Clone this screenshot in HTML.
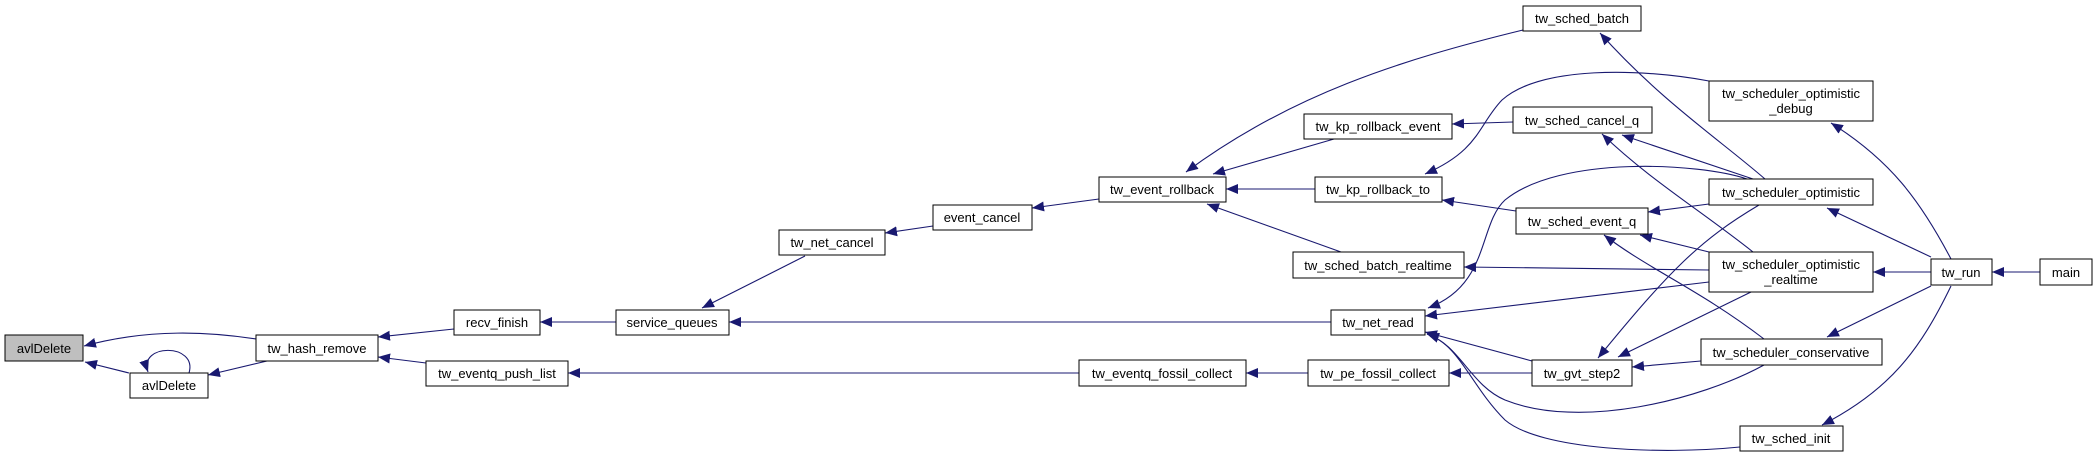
<!DOCTYPE html>
<html><head><meta charset="utf-8"><style>
html,body{margin:0;padding:0;background:#fff;}
svg{display:block;}
text{font-family:"Liberation Sans",Arial,sans-serif;font-size:13px;fill:#000;}
.n{fill:#fff;stroke:#000;stroke-width:1;}
.e{fill:none;stroke:#191970;stroke-width:1.1;}
</style></head><body>
<svg width="2093" height="457" viewBox="0 0 2093 457" xmlns="http://www.w3.org/2000/svg">
<defs><marker id="a" markerUnits="userSpaceOnUse" markerWidth="14" markerHeight="12" refX="12" refY="5" orient="auto"><path d="M0,0 L12,5 L0,10 Z" fill="#191970"/></marker></defs>
<g class="e" marker-end="url(#a)">
<path d="M256,339 C210,332 150,328 84,346"/>
<path d="M129,373 L85,362"/>
<path d="M189,373 C198,343 138,343 148,372"/>
<path d="M267,361 L208,375"/>
<path d="M454,329 L378,337"/>
<path d="M426,363 L378,357"/>
<path d="M616,322 L540,322"/>
<path d="M805,256 L702,308"/>
<path d="M1331,322 L729,322"/>
<path d="M933,226 L885,233"/>
<path d="M1099,199 L1032,208"/>
<path d="M1523,30 C1400,60 1290,95 1186,172"/>
<path d="M1334,139 L1213,174"/>
<path d="M1315,189 L1226,189"/>
<path d="M1341,252 L1207,204"/>
<path d="M1079,373 L568,373"/>
<path d="M1308,373 L1246,373"/>
<path d="M1532,373 L1449,373"/>
<path d="M1513,122 L1452,124"/>
<path d="M1709,81 C1640,68 1540,66 1502,100 C1478,125 1480,150 1425,174"/>
<path d="M1516,211 L1442,200"/>
<path d="M1765,179 C1720,140 1660,100 1600,33"/>
<path d="M1753,179 L1622,135"/>
<path d="M1753,252 C1700,210 1650,180 1602,134"/>
<path d="M1747,179 C1700,163 1560,155 1505,200 C1478,225 1490,285 1428,308"/>
<path d="M1709,204 L1648,212"/>
<path d="M1709,252 L1640,235"/>
<path d="M1709,270 L1464,267"/>
<path d="M1709,282 L1425,316"/>
<path d="M1764,339 C1700,290 1650,270 1604,235"/>
<path d="M1759,205 C1700,240 1670,270 1598,358"/>
<path d="M1751,292 L1618,357"/>
<path d="M1701,361 L1632,367"/>
<path d="M1532,361 L1425,332"/>
<path d="M1764,365 C1700,400 1580,430 1505,400 C1470,385 1460,345 1427,334"/>
<path d="M1740,447 C1660,455 1540,450 1505,420 C1470,385 1460,345 1427,334"/>
<path d="M1951,259 C1920,200 1890,160 1831,123"/>
<path d="M1931,257 L1827,208"/>
<path d="M1931,272 L1873,272"/>
<path d="M1931,286 L1827,337"/>
<path d="M1951,286 C1920,350 1890,390 1822,425"/>
<path d="M2040,272 L1992,272"/>
</g>
<g text-anchor="middle">
<rect x="5" y="335" width="78" height="26" fill="#bfbfbf" stroke="#000"/><text x="44" y="353">avlDelete</text>
<rect class="n" x="130" y="373" width="78" height="25"/><text x="169" y="390">avlDelete</text>
<rect class="n" x="256" y="335" width="122" height="26"/><text x="317" y="353">tw_hash_remove</text>
<rect class="n" x="454" y="310" width="86" height="25"/><text x="497" y="327">recv_finish</text>
<rect class="n" x="426" y="361" width="142" height="25"/><text x="497" y="378">tw_eventq_push_list</text>
<rect class="n" x="616" y="310" width="113" height="25"/><text x="672" y="327">service_queues</text>
<rect class="n" x="779" y="230" width="106" height="25"/><text x="832" y="247">tw_net_cancel</text>
<rect class="n" x="933" y="205" width="99" height="25"/><text x="982" y="222">event_cancel</text>
<rect class="n" x="1099" y="177" width="127" height="25"/><text x="1162" y="194">tw_event_rollback</text>
<rect class="n" x="1304" y="114" width="148" height="25"/><text x="1378" y="131">tw_kp_rollback_event</text>
<rect class="n" x="1315" y="177" width="127" height="25"/><text x="1378" y="194">tw_kp_rollback_to</text>
<rect class="n" x="1293" y="252" width="171" height="26"/><text x="1378" y="270">tw_sched_batch_realtime</text>
<rect class="n" x="1331" y="310" width="94" height="25"/><text x="1378" y="327">tw_net_read</text>
<rect class="n" x="1079" y="360" width="167" height="26"/><text x="1162" y="378">tw_eventq_fossil_collect</text>
<rect class="n" x="1308" y="360" width="141" height="26"/><text x="1378" y="378">tw_pe_fossil_collect</text>
<rect class="n" x="1523" y="6" width="118" height="25"/><text x="1582" y="23">tw_sched_batch</text>
<rect class="n" x="1513" y="107" width="139" height="26"/><text x="1582" y="125">tw_sched_cancel_q</text>
<rect class="n" x="1516" y="208" width="132" height="26"/><text x="1582" y="226">tw_sched_event_q</text>
<rect class="n" x="1532" y="360" width="100" height="26"/><text x="1582" y="378">tw_gvt_step2</text>
<rect class="n" x="1709" y="81" width="164" height="40"/><text x="1791" y="98">tw_scheduler_optimistic</text><text x="1791" y="113">_debug</text>
<rect class="n" x="1709" y="179" width="164" height="26"/><text x="1791" y="197">tw_scheduler_optimistic</text>
<rect class="n" x="1709" y="252" width="164" height="40"/><text x="1791" y="269">tw_scheduler_optimistic</text><text x="1791" y="284">_realtime</text>
<rect class="n" x="1701" y="339" width="181" height="26"/><text x="1791" y="357">tw_scheduler_conservative</text>
<rect class="n" x="1740" y="426" width="103" height="25"/><text x="1791" y="443">tw_sched_init</text>
<rect class="n" x="1931" y="259" width="61" height="26"/><text x="1961" y="277">tw_run</text>
<rect class="n" x="2040" y="259" width="52" height="26"/><text x="2066" y="277">main</text>
</g>
</svg>
</body></html>
